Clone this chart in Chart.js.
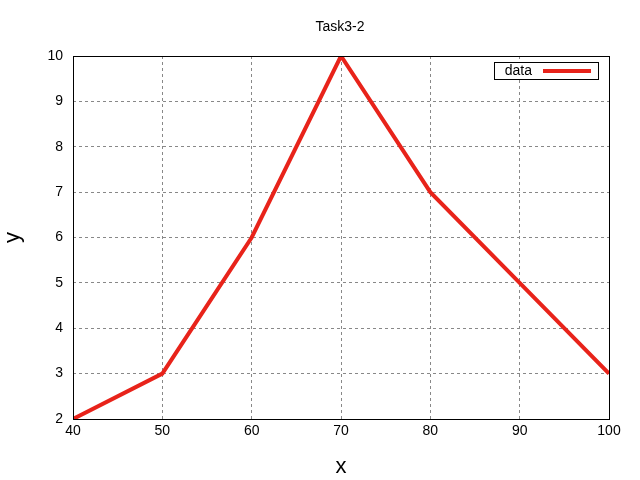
<!DOCTYPE html>
<html><head><meta charset="utf-8">
<script src="https://cdn.jsdelivr.net/npm/chart.js@4"></script>
<style>body{margin:0;background:#fff}#w{width:640px;height:480px}</style>
</head><body><div id="w"><canvas id="c" width="640" height="480"></canvas></div>
<script>
const xValues=[40,50,60,70,80,90,100];
const yValues=[2,3,6,10,7,5,3];
const seriesName='data';
const titleText='Task3-2';
const F='"Liberation Sans", Arial, sans-serif';
const deco={id:'deco',afterDraw(ch){const c=ch.ctx,a=ch.chartArea;c.save();
c.strokeStyle='#000';c.lineWidth=1;c.strokeRect(a.left+0.5,a.top+0.5,a.right-a.left,a.bottom-a.top);
c.fillStyle='#000';c.font='14px '+F;c.textAlign='center';c.textBaseline='middle';c.fillText(titleText,340,27);
c.fillStyle='#fff';c.fillRect(494,62,105,17);c.strokeRect(494.5,62.5,104,17);
c.fillStyle='#000';c.textAlign='right';c.fillText(seriesName,532,71);
c.strokeStyle='#e8231a';c.lineWidth=4;c.beginPath();c.moveTo(543,71);c.lineTo(591,71);c.stroke();c.restore();}};
new Chart(document.getElementById('c'),{type:'line',
data:{datasets:[{label:seriesName,data:xValues.map((x,i)=>({x,y:yValues[i]})),borderColor:'#e8231a',borderWidth:4,pointRadius:0,tension:0}]},
options:{responsive:false,animation:false,layout:{padding:{top:56,right:31,left:0,bottom:0}},
plugins:{legend:{display:false},title:{display:false},tooltip:{enabled:false}},
scales:{
x:{type:'linear',min:40,max:100,ticks:{stepSize:10,color:'#000',font:{size:14,family:F},padding:4},
grid:{color:'#888',tickLength:0,drawTicks:false},border:{dash:[3,3],display:false},
title:{display:true,text:'x',color:'#000',font:{size:22,family:F},padding:0},
afterFit(s){s.height=61;}},
y:{min:2,max:10,ticks:{stepSize:1,color:'#000',font:{size:14,family:F},padding:10},
grid:{color:'#888',tickLength:0,drawTicks:false},border:{dash:[3,3],display:false},
title:{display:true,text:'y',color:'#000',font:{size:22,family:F},padding:0},
afterFit(s){s.width=73;}}}},
plugins:[deco]});
</script></body></html>
